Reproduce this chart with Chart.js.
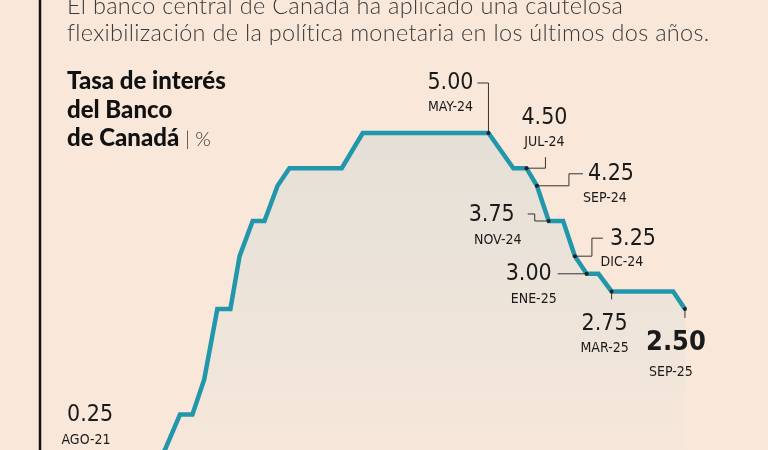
<!DOCTYPE html>
<html><head><meta charset="utf-8">
<script src="https://cdn.jsdelivr.net/npm/chart.js@4/dist/chart.umd.min.js"></script>
<style>
html,body{margin:0;padding:0;background:#f9e8da;}
#wrap{position:relative;width:768px;height:450px;overflow:hidden;background:#f9e8da;}
canvas{position:absolute;left:0;top:0;}
.hd{position:absolute;left:67px;font-family:'Lato','Open Sans',sans-serif;font-weight:300;font-size:23.5px;color:#3a3a3a;white-space:nowrap;letter-spacing:0.3px}
.tt{position:absolute;left:67px;top:66px;font-family:'Lato','Open Sans',sans-serif;font-weight:900;font-size:24px;line-height:28.5px;color:#111;}
.tt span{font-weight:300;color:#333;font-size:20px}
</style></head><body>
<div id="wrap">
<canvas id="c" width="768" height="450"></canvas>
<div class="hd" style="top:-9px">El banco central de Canadá ha aplicado una cautelosa</div>
<div class="hd" style="top:18px">flexibilización de la política monetaria en los últimos dos años.</div>
<div class="tt">Tasa de interés<br>del Banco<br>de Canadá <span>| %</span></div>
</div>
<script>
// months since Jan 2021 (fractional) and rate in %
const months = [7, 15.4, 16.3, 17.45, 18.4, 19.3, 20.3, 21.3, 22.0, 23.0, 23.9, 24.9, 25.8, 29.8, 31.4, 41.0, 42.9, 43.9, 44.7, 45.6, 46.7, 47.6, 48.5, 49.4, 50.4, 55.1, 56.0];
const rates  = [0.25, 0.25, 0.5, 1.0, 1.0, 1.5, 2.5, 2.5, 3.25, 3.75, 3.75, 4.25, 4.5, 4.5, 5.0, 5.0, 4.5, 4.5, 4.25, 3.75, 3.75, 3.25, 3.0, 3.0, 2.75, 2.75, 2.5];
// annotations: month, rate, value label, date label
const notes = [
  {m:41.0, r:5.00, v:'5.00', d:'MAY-24'},
  {m:43.9, r:4.50, v:'4.50', d:'JUL-24'},
  {m:44.7, r:4.25, v:'4.25', d:'SEP-24'},
  {m:45.6, r:3.75, v:'3.75', d:'NOV-24'},
  {m:47.6, r:3.25, v:'3.25', d:'DIC-24'},
  {m:48.5, r:3.00, v:'3.00', d:'ENE-25'},
  {m:50.4, r:2.75, v:'2.75', d:'MAR-25'},
  {m:56.0, r:2.50, v:'2.50', d:'SEP-25'},
  {m:7,    r:0.25, v:'0.25', d:'AGO-21'}
];
const layout = [
  {path:[[0,0],[0,-50],[-11,-50]], tx:-38, ty:-50, dy:24, al:'center'},
  {path:[[0,0],[19,0],[19,-11]], tx:18, ty:-50, dy:24, al:'center'},
  {path:[[0,0],[32,0],[32,-12],[46,-12]], tx:51, ty:-12, dy:25, al:'left', dcx:68},
  {path:[[0,0],[-14,0],[-14,-7],[-21,-7]], tx:-34, ty:-6, dy:25, al:'right', dcx:-51},
  {path:[[0,0],[17,0],[17,-18],[28,-18]], tx:35, ty:-17, dy:23, al:'left', dcx:47},
  {path:[[0,0],[-29,0]], tx:-35, ty:0, dy:26, al:'right', dcx:-53},
  {path:[[0,0],[0,8]], tx:-7, ty:33, dy:24, al:'center'},
  {path:[[0,0],[0,9]], tx:-9, ty:34, dy:29, al:'center', bold:true, dcx:-5},
  {path:null, tx:0, ty:0, dy:25, al:'left', abs:[67,415]}
];
const FF = "'DejaVu Sans Condensed','DejaVu Sans',sans-serif";
const notesPlugin = {
  id:'notes',
  afterDatasetsDraw(chart){
    const ctx = chart.ctx, xs = chart.scales.x, ys = chart.scales.y;
    notes.forEach((n,i)=>{
      const L = layout[i];
      const px = xs.getPixelForValue(n.m), py = ys.getPixelForValue(n.r);
      ctx.save();
      if(L.path){
        ctx.strokeStyle='#333'; ctx.lineWidth=1;
        ctx.beginPath();
        L.path.forEach((p,k)=>{ k?ctx.lineTo(px+p[0],py+p[1]):ctx.moveTo(px+p[0],py+p[1]); });
        ctx.stroke();
        ctx.fillStyle='#222'; ctx.beginPath(); ctx.arc(px,py,2,0,Math.PI*2); ctx.fill();
      }
      let tx, ty;
      if(L.abs){tx=L.abs[0]; ty=L.abs[1];} else {tx=px+L.tx; ty=py+L.ty;}
      try{ctx.fontStretch='condensed';}catch(e){}
      ctx.fillStyle='#1a1a1a'; ctx.textAlign=L.al; ctx.textBaseline='middle';
      ctx.font = (L.bold?'bold 27px ':'23px ')+FF;
      try{ctx.fontStretch='condensed';}catch(e){}
      ctx.fillText(n.v, tx, ty);
      ctx.font = "14px "+FF;
      try{ctx.fontStretch='condensed';}catch(e){}
      ctx.textAlign='center';
      let dcx = L.al==='center' ? tx + (L.dcx||0) : px + L.dcx;
      if(L.abs){dcx = tx+19;}
      ctx.fillText(n.d, dcx, ty+L.dy);
      ctx.restore();
    });
    ctx.save(); ctx.strokeStyle='#111'; ctx.lineWidth=2.5;
    ctx.beginPath(); ctx.moveTo(40,0); ctx.lineTo(40,450); ctx.stroke(); ctx.restore();
  }
};
new Chart(document.getElementById('c'), {
  type:'line',
  data:{datasets:[{
    data: months.map((m,i)=>({x:m,y:rates[i]})),
    borderColor:'#2296ab', borderWidth:4.5, pointRadius:0, tension:0,
    fill:'origin',
    backgroundColor:(c)=>{const a=c.chart.chartArea; if(!a) return '#e4e0d8';
      const g=c.chart.ctx.createLinearGradient(0,a.top,0,a.bottom);
      g.addColorStop(0,'#dedcd5'); g.addColorStop(0.6,'#ebe3d9'); g.addColorStop(1,'#f6e7da'); return g;}
  }]},
  options:{
    responsive:false, animation:false,
    layout:{padding:0},
    plugins:{legend:{display:false},tooltip:{enabled:false}},
    scales:{
      x:{type:'linear', min:3.71, max:62.34, display:false},
      y:{min:0.497, max:6.889, display:false}
    }
  },
  plugins:[notesPlugin]
});
</script>
</body></html>
